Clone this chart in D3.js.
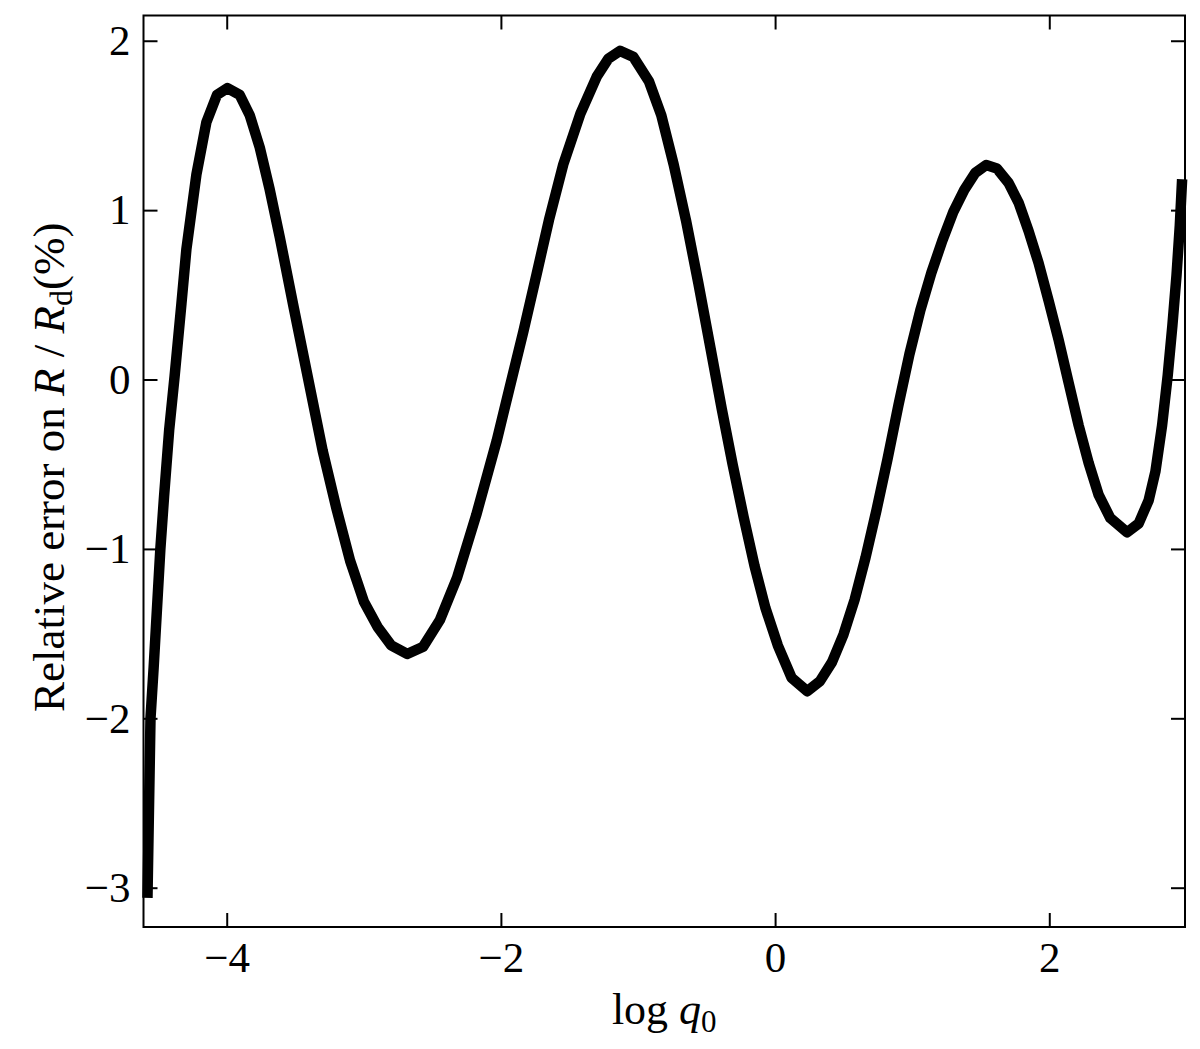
<!DOCTYPE html>
<html>
<head>
<meta charset="utf-8">
<script src="https://cdn.jsdelivr.net/npm/d3@7"></script>
<style>
  body { margin: 0; background: #fff; }
  text { font-family: "Liberation Serif", "DejaVu Serif", serif; fill: #000; }
</style>
</head>
<body>
<div id="chart"></div>
<script>
// log q0 values
const logQ = [
  -4.578, -4.556, -4.533, -4.484, -4.457, -4.420, -4.380, -4.330, -4.294, -4.221,
  -4.148, -4.071, -3.995, -3.905, -3.832, -3.759, -3.686, -3.613, -3.510, -3.405,
  -3.300, -3.200, -3.100, -3.000, -2.900, -2.800, -2.684, -2.567, -2.445, -2.320,
  -2.180, -2.030, -1.940, -1.837, -1.740, -1.650, -1.545, -1.420, -1.300, -1.216,
  -1.131, -1.034, -0.920, -0.830, -0.740, -0.650, -0.560, -0.470, -0.390, -0.310,
  -0.230, -0.150, -0.070, 0.020, 0.120, 0.235, 0.328, 0.414, 0.499, 0.580,
  0.660, 0.740, 0.820, 0.900, 0.980, 1.060, 1.140, 1.220, 1.300, 1.380,
  1.460, 1.540, 1.618, 1.703, 1.776, 1.849, 1.922, 1.995, 2.068, 2.141,
  2.214, 2.287, 2.360, 2.445, 2.567, 2.652, 2.725, 2.774, 2.823, 2.864,
  2.898, 2.928, 2.952, 2.969
]
// relative error on R/Rd in %
const relErr = [
  -3.06, -2.00, -1.70, -1.00, -0.69, -0.30, 0.02, 0.45, 0.77, 1.21,
  1.52, 1.68, 1.72, 1.68, 1.56, 1.37, 1.12, 0.84, 0.42, 0.00,
  -0.42, -0.76, -1.07, -1.31, -1.46, -1.57, -1.62, -1.577, -1.42, -1.17,
  -0.80, -0.36, -0.06, 0.28, 0.62, 0.94, 1.27, 1.57, 1.79, 1.895,
  1.94, 1.905, 1.76, 1.56, 1.27, 0.94, 0.57, 0.18, -0.17, -0.50,
  -0.81, -1.10, -1.35, -1.57, -1.76, -1.84, -1.78, -1.67, -1.505, -1.30,
  -1.05, -0.77, -0.47, -0.15, 0.15, 0.41, 0.63, 0.82, 0.99, 1.12,
  1.22, 1.266, 1.246, 1.161, 1.045, 0.877, 0.688, 0.466, 0.235, -0.018,
  -0.270, -0.492, -0.681, -0.818, -0.902, -0.850, -0.713, -0.544, -0.270, 0.024,
  0.319, 0.614, 0.909, 1.182
]
const xTicks = [-4, -2, 0, 2]
const yTicks = [-3, -2, -1, 0, 1, 2]
const xDomain = [-4.607, 2.99]
const yDomain = [-3.232, 2.149]

const W = 1200, H = 1049
const MARGIN = { TOP: 15.5, BOTTOM: 122, LEFT: 143.5, RIGHT: 15 }
const WIDTH = W - MARGIN.LEFT - MARGIN.RIGHT
const HEIGHT = H - MARGIN.TOP - MARGIN.BOTTOM
const FONT = 43
const TICK = 14

const fmt = d => d < 0 ? "\u2212" + Math.abs(d) : String(d)

const svg = d3.select("#chart").append("svg")
    .attr("width", W)
    .attr("height", H)
  .append("g")
    .attr("transform", `translate(${MARGIN.LEFT}, ${MARGIN.TOP})`)

const x = d3.scaleLinear().domain(xDomain).range([0, WIDTH])
const y = d3.scaleLinear().domain(yDomain).range([HEIGHT, 0])

// axes: ticks point inward on all four sides
const styleAxis = g => {
  g.select(".domain").remove()
  g.selectAll(".tick line").attr("stroke", "#000").attr("stroke-width", 2)
  g.selectAll(".tick text").style("font-size", FONT + "px").attr("font-family", null)
}

svg.append("g")
    .attr("transform", `translate(0, ${HEIGHT})`)
    .call(d3.axisBottom(x).tickValues(xTicks).tickSize(-TICK).tickSizeOuter(0).tickPadding(14).tickFormat(fmt))
    .call(styleAxis)

svg.append("g")
    .call(d3.axisTop(x).tickValues(xTicks).tickSize(-TICK).tickSizeOuter(0).tickFormat(""))
    .call(styleAxis)

svg.append("g")
    .call(d3.axisLeft(y).tickValues(yTicks).tickSize(-TICK).tickSizeOuter(0).tickPadding(13).tickFormat(fmt))
    .call(styleAxis)

svg.append("g")
    .attr("transform", `translate(${WIDTH}, 0)`)
    .call(d3.axisRight(y).tickValues(yTicks).tickSize(-TICK).tickSizeOuter(0).tickFormat(""))
    .call(styleAxis)

svg.append("rect")
    .attr("width", WIDTH)
    .attr("height", HEIGHT)
    .attr("fill", "none")
    .attr("stroke", "#000")
    .attr("stroke-width", 2)

const pts = logQ.map((q, i) => [q, relErr[i]])
const line = d3.line().x(d => x(d[0])).y(d => y(d[1]))

svg.append("path")
    .datum(pts)
    .attr("d", line)
    .attr("fill", "none")
    .attr("stroke", "#000")
    .attr("stroke-width", 10.5)
    .attr("stroke-linejoin", "round")
    .attr("stroke-linecap", "butt")

// x label: log q0
const xl = svg.append("text")
    .attr("x", WIDTH / 2)
    .attr("y", HEIGHT + 97)
    .attr("text-anchor", "middle")
    .style("font-size", "44px")
xl.append("tspan").text("log ")
xl.append("tspan").attr("font-style", "italic").text("q")
xl.append("tspan").attr("dy", 8).style("font-size", "31px").text("0")

// y label
const yl = svg.append("text")
    .attr("transform", `translate(${64 - MARGIN.LEFT}, ${HEIGHT / 2 - 4}) rotate(-90)`)
    .attr("text-anchor", "middle")
    .style("font-size", "45px")
yl.append("tspan").text("Relative error on ")
yl.append("tspan").attr("font-style", "italic").text("R")
yl.append("tspan").text(" / ")
yl.append("tspan").attr("font-style", "italic").text("R")
yl.append("tspan").attr("dy", 8).style("font-size", "32px").text("d")
yl.append("tspan").attr("dy", -8).text("(%)")
</script>
</body>
</html>
